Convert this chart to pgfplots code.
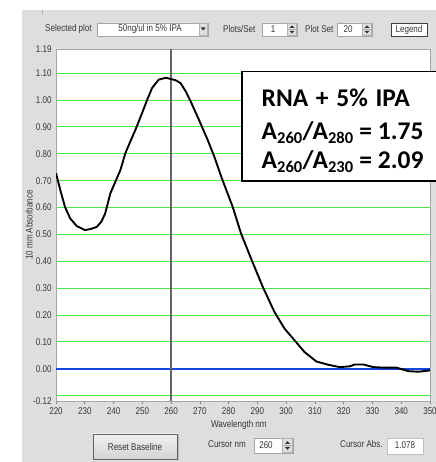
\documentclass[border=0pt]{standalone}
\usepackage{pgfplots}
\pgfplotsset{compat=1.18}
\usepackage{pgfplotstable}
\usepackage{fontspec}
\setmainfont{Liberation Sans}
\newfontfamily\uifont[FakeStretch=0.82]{Liberation Sans}
\newfontfamily\notefont{Carlito}

\definecolor{panel}{RGB}{222,222,222}
\definecolor{uitext}{RGB}{55,55,55}
\definecolor{gridgreen}{RGB}{70,235,70}
\definecolor{zeroblue}{RGB}{20,70,225}
\definecolor{cursorgray}{RGB}{100,100,100}

\newcommand{\ui}{\uifont\fontsize{9.8bp}{11bp}\selectfont}
\newcommand{\sub}[1]{\textsubscript{\fontsize{16.5bp}{17bp}\selectfont #1}}

% absorbance spectrum, 10 mm path
\pgfplotstableread{
nm     A
220.0  0.728
221.5  0.665
223.1  0.603
224.9  0.560
227.2  0.531
230.1  0.516
232.0  0.520
234.2  0.528
235.8  0.548
237.1  0.578
238.9  0.653
240.6  0.695
242.4  0.740
244.1  0.802
246.0  0.850
247.6  0.889
249.9  0.951
251.7  1.001
253.4  1.045
255.7  1.076
258.2  1.083
260.0  1.078
261.5  1.074
263.3  1.063
265.1  1.032
266.8  0.995
269.7  0.926
272.7  0.852
275.0  0.790
277.6  0.710
281.4  0.603
284.3  0.504
287.8  0.410
291.9  0.304
295.9  0.212
299.4  0.150
302.9  0.106
306.4  0.062
310.5  0.027
314.6  0.015
318.6  0.006
322.1  0.009
323.9  0.016
326.8  0.016
330.3  0.006
334.3  0.004
338.4  0.004
342.5 -0.009
346.0 -0.011
350.0 -0.006
}\spectrum

\begin{document}
\begin{tikzpicture}[x=1bp,y=1bp]
\path[use as bounding box] (0,0) rectangle (436,462);
% window background
\fill[panel] (22,0) rectangle (436,452);
\draw[gray!60, line width=0.8bp] (42,452) -- (42,447);

% ---- top control row ----
\node[anchor=west, inner sep=0, text=uitext, font=\ui] at (45,433) {Selected plot};
\draw[gray!70, fill=white] (97,426) rectangle (208,439);
\node[inner sep=0, text=uitext, font=\ui] at (150,433) {50ng/ul in 5\% IPA};
\draw[gray!60, fill=panel] (199,427) rectangle (207.5,438.5);
\fill[black!80] (200.8,434.5) -- (205.7,434.5) -- (203.25,431.5) -- cycle;
\node[anchor=west, inner sep=0, text=uitext, font=\ui] at (223,433) {Plots/Set};
\draw[gray!70, fill=white] (262,426) rectangle (297,439);
\node[inner sep=0, text=uitext, font=\ui] at (273,433) {1};
\draw[gray!60, fill=panel] (287.5,426.5) rectangle (296.5,438.5);
\draw[gray!60] (287.5,432.5) -- (296.5,432.5);
\fill[black!80] (289.5,434) -- (294.5,434) -- (292,436.5) -- cycle;
\fill[black!80] (289.5,431) -- (294.5,431) -- (292,428.5) -- cycle;
\node[anchor=west, inner sep=0, text=uitext, font=\ui] at (305,433) {Plot Set};
\draw[gray!70, fill=white] (337,426) rectangle (372,439);
\node[inner sep=0, text=uitext, font=\ui] at (348,433) {20};
\draw[gray!60, fill=panel] (362.5,426.5) rectangle (371.5,438.5);
\draw[gray!60] (362.5,432.5) -- (371.5,432.5);
\fill[black!80] (364.5,434) -- (369.5,434) -- (367,436.5) -- cycle;
\fill[black!80] (364.5,431) -- (369.5,431) -- (367,428.5) -- cycle;
\draw[black!75, fill=white, line width=0.8bp] (391,426) rectangle (427,439);
\node[inner sep=0, text=uitext, font=\ui] at (409,432.5) {Legend};

% ---- plot ----
\begin{axis}[
  at={(56bp,61bp)}, anchor=south west,
  width=374bp, height=352bp, scale only axis,
  xmin=220, xmax=350, ymin=-0.12, ymax=1.19,
  axis background/.style={fill=white},
  axis line style={draw=gray!70, line width=0.8bp},
  xtick={220,230,240,250,260,270,280,290,300,310,320,330,340,350},
  xticklabels={220,230,240,250,260,270,280,290,300,310,320,330,340,350},
  ytick={-0.1,0,0.1,0.2,0.3,0.4,0.5,0.6,0.7,0.8,0.9,1.0,1.1},
  yticklabels={,0.00,0.10,0.20,0.30,0.40,0.50,0.60,0.70,0.80,0.90,1.00,1.10},
  extra y ticks={-0.12,1.19},
  extra y tick labels={-0.12,1.19},
  extra y tick style={ymajorgrids=false},
  ymajorgrids,
  major grid style={draw=gridgreen, line width=1bp},
  xtick align=outside,
  x tick style={draw=gray, line width=0.6bp},
  xtick pos=bottom,
  major tick length=3bp,
  y tick style={draw=none},
  tick label style={font=\ui, text=uitext},
  /pgf/number format/assume math mode=true,
  yticklabel style={xshift=-1bp},
  xlabel={Wavelength nm},
  ylabel={10 mm Absorbance},
  label style={font=\ui, text=uitext},
  xlabel style={at={(axis description cs:0.489,-0.068)}, anchor=center},
  ylabel style={at={(axis description cs:-0.072,0.5)}, anchor=center},
]
\addplot[zeroblue, line width=1.5bp] coordinates {(220,0) (350,0)};
\addplot[cursorgray, line width=1.6bp] coordinates {(260,-0.12) (260,1.19)};
\addplot[black, line width=1.9bp, line join=round] table[x=nm, y=A] {\spectrum};
\end{axis}

% ---- annotation ----
\draw[black, line width=1.5bp, fill=white] (242,281) rectangle (445,390.5);
\begin{scope}[every node/.style={anchor=base west, inner sep=0, font=\notefont\bfseries\fontsize{25.5bp}{27bp}\selectfont}]
\node at (261.5,355.3) {RNA\hskip 7.7bp+\hskip 7.7bp5\%\hskip 7.7bp IPA};
\node at (261.5,322.7) {A\sub{260}/A\sub{280} = 1.75};
\node at (261.5,293.7) {A\sub{260}/A\sub{230} = 2.09};
\end{scope}

% ---- bottom control row ----
\fill[gray!55] (94.5,1.5) rectangle (179,27);
\shade[top color=gray!10, bottom color=gray!35, draw=gray!75!black, line width=0.8bp] (93,3) rectangle (177.5,28);
\node[inner sep=0, text=uitext, font=\ui] at (135,15.5) {Reset Baseline};
\node[anchor=west, inner sep=0, text=uitext, font=\ui] at (208,18) {Cursor nm};
\draw[gray!70, fill=white] (254,9) rectangle (293,24);
\node[inner sep=0, text=uitext, font=\ui] at (266,16.5) {260};
\draw[gray!60, fill=panel] (282.5,9.5) rectangle (292.5,23.5);
\draw[gray!60] (282.5,16.5) -- (292.5,16.5);
\fill[black!80] (285,18) -- (290,18) -- (287.5,20.8) -- cycle;
\fill[black!80] (285,15) -- (290,15) -- (287.5,12.2) -- cycle;
\node[anchor=west, inner sep=0, text=uitext, font=\ui] at (340,18) {Cursor Abs.};
\draw[gray!50, fill=white] (387,8) rectangle (423,24);
\node[inner sep=0, text=uitext, font=\ui] at (405,16.5) {1.078};
\end{tikzpicture}
\end{document}
